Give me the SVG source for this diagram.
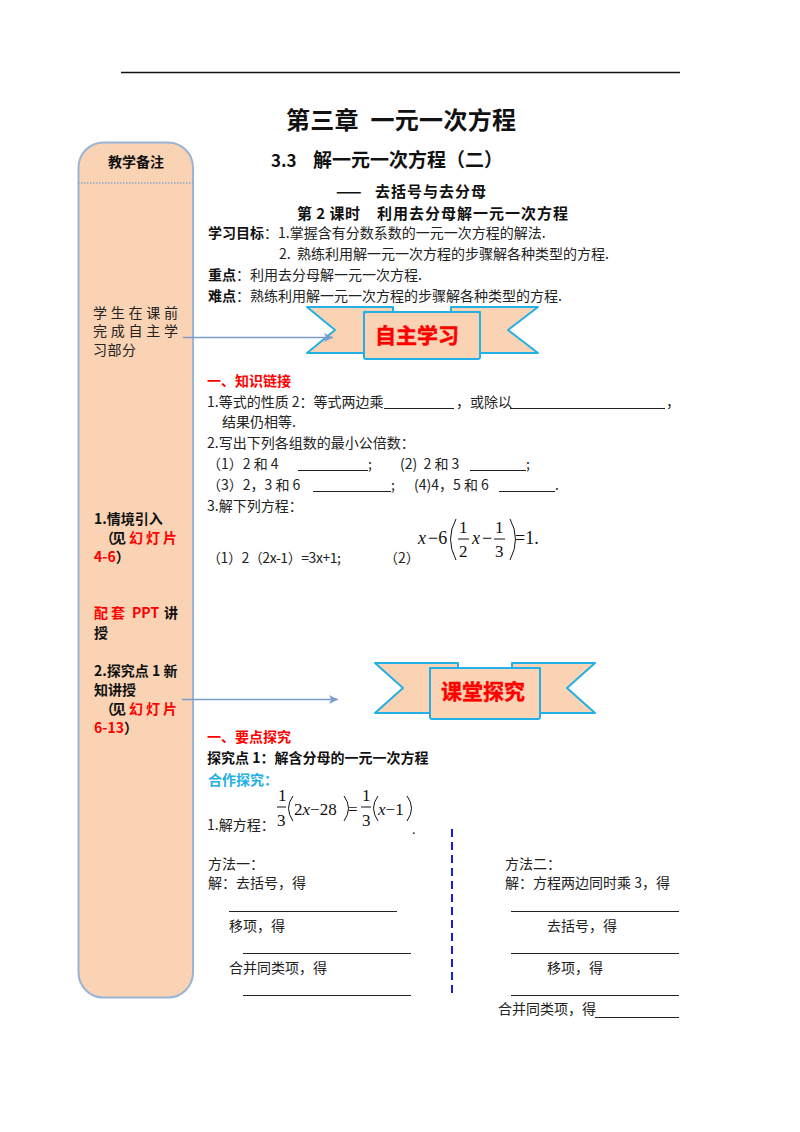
<svg xmlns="http://www.w3.org/2000/svg" width="800" height="1132" viewBox="0 0 800 1132">
<style>
text{font-family:"Noto Sans CJK SC","Liberation Sans",sans-serif;fill:#222;font-size:14px;white-space:pre}
.b{font-weight:700;fill:#111}
.r{fill:#f00;font-weight:700}
.m{font-family:"Liberation Serif","Noto Sans CJK SC",serif;fill:#111}
.i{font-style:italic}
.e1{font-size:18px}
.f{font-size:17px}
.s{letter-spacing:3px}
.h3{font-size:15px;letter-spacing:1px}
.paren{fill:none;stroke:#111;stroke-width:1}
.rib{fill:#f9d3b4;stroke:#22b0e6;stroke-width:2;stroke-linejoin:round}
.u{stroke:#222;stroke-width:1;fill:none}
.conn{stroke:#7c9ccb;stroke-width:1.500;fill:none}
</style>
<defs>
<marker id="arr" markerWidth="7" markerHeight="7" refX="6" refY="3" orient="auto" markerUnits="strokeWidth"><path d="M0 0L6 3L0 6L1.500 3z" fill="#7c9ccb"/></marker>
</defs>
<rect width="800" height="1132" fill="#fff"/>
<line x1="121" y1="72.500" x2="680" y2="72.500" stroke="#111" stroke-width="1.500"/>

<g id="sidebar">
<rect x="78.500" y="142.500" width="114.500" height="855" rx="25" fill="#f9d3b4" stroke="#9ab3d6" stroke-width="2"/>
<line x1="78" y1="183" x2="194" y2="183" stroke="#8fa8cc" stroke-width="1.500" stroke-dasharray="1.500 1.500"/>
<text class="b" x="108" y="167" textLength="56">教学备注</text>
<text x="93" y="318" textLength="85">学生在课前</text>
<text x="93" y="336" textLength="85">完成自主学</text>
<text x="93" y="355" textLength="43">习部分</text>
<text class="b" x="94" y="524">1.情境引入</text>
<text class="b" x="100" y="543" textLength="26">（见</text>
<text class="r s" x="129" y="543">幻灯片</text>
<text class="b" x="94" y="562"><tspan class="r">4-6</tspan>）</text>
<text class="r" x="94" y="618" textLength="31">配套</text>
<text class="r" x="132" y="618">PPT</text>
<text class="b" x="164" y="618">讲</text>
<text class="b" x="94" y="638">授</text>
<text class="b" x="94" y="676">2.探究点 1 新</text>
<text class="b" x="94" y="695">知讲授</text>
<text class="b" x="100" y="714" textLength="26">（见</text>
<text class="r s" x="129" y="714">幻灯片</text>
<text class="b" x="94" y="733"><tspan class="r">6-13</tspan>）</text>
</g>

<g id="header">
<text class="b" x="286" y="129" style="font-size:24px" textLength="230">第三章  一元一次方程</text>
<text class="b" x="271" y="167" style="font-size:17px">3.3</text>
<text class="b" x="313" y="167" style="font-size:19px">解一元一次方程（二）</text>
<text class="b h3" x="336" y="197" textLength="31">——</text>
<text class="b h3" x="375" y="197">去括号与去分母</text>
<text class="b h3" x="297" y="219" textLength="64">第 2 课时</text>
<text class="b h3" x="377" y="219">利用去分母解一元一次方程</text>
</g>

<g id="objectives">
<text x="208" y="238"><tspan class="b">学习目标</tspan>：1.掌握含有分数系数的一元一次方程的解法.</text>
<text x="279" y="259">2.  熟练利用解一元一次方程的步骤解各种类型的方程.</text>
<text x="208" y="280"><tspan class="b">重点</tspan>：利用去分母解一元一次方程.</text>
<text x="208" y="301"><tspan class="b">难点</tspan>：熟练利用解一元一次方程的步骤解各种类型的方程.</text>
</g>

<g id="banner-zizhu">
<path class="rib" d="M307 307H393V312H364V353H307L335 330Z"/>
<path class="rib" d="M538 307H451V312H480V353H538L508 330Z"/>
<rect class="rib" x="364" y="312" width="116" height="47" rx="2"/>
<text class="r" x="375" y="343" style="font-size:21px;stroke:#f00;stroke-width:.5">自主学习</text>
</g>

<g id="knowledge">
<text class="r" x="207" y="386">一、知识链接</text>
<text x="207" y="407">1.等式的性质 2：等式两边乘</text>
<line class="u" x1="384" y1="408.500" x2="454" y2="408.500"/>
<text x="456" y="407">，或除以</text>
<line class="u" x1="510" y1="408.500" x2="665" y2="408.500"/>
<text x="666" y="407">，</text>
<text x="222" y="427">结果仍相等.</text>
<text x="207" y="448">2.写出下列各组数的最小公倍数：</text>
<text x="207" y="469">（1）2 和 4</text>
<line class="u" x1="298" y1="470.500" x2="368" y2="470.500"/>
<text x="368" y="469">;</text>
<text x="400" y="469">(2)  2 和 3</text>
<line class="u" x1="470" y1="470.500" x2="526" y2="470.500"/>
<text x="526" y="469">;</text>
<text x="207" y="490">（3）2，3 和 6</text>
<line class="u" x1="313" y1="491.500" x2="391" y2="491.500"/>
<text x="391" y="490">;</text>
<text x="414" y="490">(4)4，5 和 6</text>
<line class="u" x1="499" y1="491.500" x2="555" y2="491.500"/>
<text x="555" y="490">.</text>
<text x="207" y="511">3.解下列方程：</text>
<text x="207" y="563" textLength="134">（1）2（2x-1）=3x+1;</text>
<text x="384" y="563">（2）</text>
</g>

<g id="equation-1">
<text class="m i e1" x="418" y="544">x</text>
<text class="m e1" x="428" y="544">−6</text>
<path class="paren" d="M456 519Q445 539 456 560M510 519Q521 539 510 560"/>
<text class="m f" x="459" y="533">1</text>
<line x1="458" y1="539" x2="469" y2="539" stroke="#111"/>
<text class="m f" x="459" y="557">2</text>
<text class="m i e1" x="472" y="544">x</text>
<text class="m e1" x="482" y="544">−</text>
<text class="m f" x="495" y="533">1</text>
<line x1="494" y1="539" x2="505" y2="539" stroke="#111"/>
<text class="m f" x="495" y="557">3</text>
<text class="m e1" x="515" y="544">=1.</text>
</g>

<g id="banner-ketang">
<path class="rib" d="M375 663H458V668H430V713H375L403 688Z"/>
<path class="rib" d="M595 663H512V668H540V713H595L567 688Z"/>
<rect class="rib" x="430" y="668" width="110" height="51" rx="2"/>
<text class="r" x="441" y="699" style="font-size:21px;stroke:#f00;stroke-width:.4">课堂探究</text>
</g>

<g id="explore">
<text class="r" x="207" y="742">一、要点探究</text>
<text class="b" x="207" y="763">探究点 1：解含分母的一元一次方程</text>
<text x="208" y="785" style="fill:#22b0e6;font-weight:700">合作探究：</text>
<text x="207" y="830">1.解方程：</text>
</g>

<g id="equation-2">
<text class="m f" x="278" y="801">1</text>
<line x1="277" y1="807" x2="286" y2="807" stroke="#111"/>
<text class="m f" x="277" y="826">3</text>
<path class="paren" d="M293 796Q284 808 293 821M344 796Q353 808 344 821"/>
<text class="m f" x="294" y="815">2<tspan class="i">x</tspan>−28</text>
<text class="m f" x="348" y="815">=</text>
<text class="m f" x="362" y="801">1</text>
<line x1="361" y1="807" x2="371" y2="807" stroke="#111"/>
<text class="m f" x="362" y="826">3</text>
<path class="paren" d="M378 796Q369 808 378 821M407 796Q416 808 407 821"/>
<text class="m f" x="378" y="815"><tspan class="i">x</tspan>−1</text>
<text class="m" x="412" y="834">.</text>
</g>

<g id="method-1">
<text x="208" y="869">方法一：</text>
<text x="208" y="888">解：去括号，得</text>
<line class="u" x1="229" y1="911.500" x2="397" y2="911.500"/>
<text x="229" y="931">移项，得</text>
<line class="u" x1="243" y1="953.500" x2="411" y2="953.500"/>
<text x="229" y="973">合并同类项，得</text>
<line class="u" x1="243" y1="995.500" x2="411" y2="995.500"/>
</g>

<g id="method-2">
<text x="505" y="869">方法二：</text>
<text x="505" y="888">解：方程两边同时乘 3，得</text>
<line class="u" x1="511" y1="911.500" x2="679" y2="911.500"/>
<text x="547" y="931">去括号，得</text>
<line class="u" x1="511" y1="953.500" x2="679" y2="953.500"/>
<text x="547" y="973">移项，得</text>
<line class="u" x1="511" y1="995.500" x2="679" y2="995.500"/>
<text x="498" y="1014">合并同类项，得</text>
<line class="u" x1="595" y1="1017.500" x2="679" y2="1017.500"/>
</g>

<g id="connectors">
<path class="conn" d="M183 337.500H333" marker-end="url(#arr)"/>
<path class="conn" d="M182 699.500H338" marker-end="url(#arr)"/>
<line x1="452" y1="829" x2="452" y2="998" stroke="#1a1ae0" stroke-width="2" stroke-dasharray="8 5"/>
</g>
</svg>
